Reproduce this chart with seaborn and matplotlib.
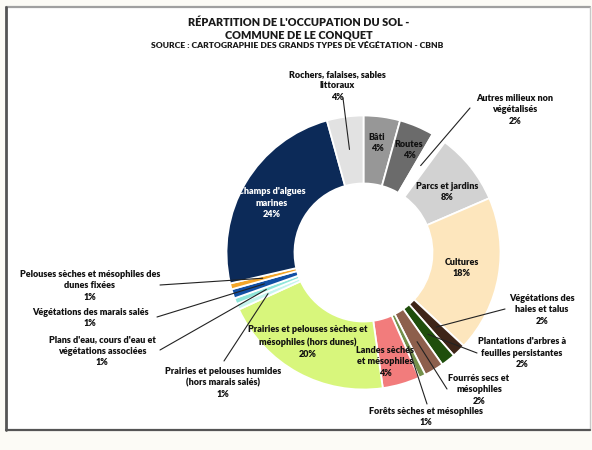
import numpy as np
import matplotlib
matplotlib.use("Agg")
import matplotlib.pyplot as plt
import seaborn as sns

# Land use shares, clockwise from 12 o'clock (percent)
categories = [
    "Bâti",
    "Routes",
    "Autres milieux non\nvégétalisés",
    "Parcs et jardins",
    "Cultures",
    "Végétations des\nhaies et talus",
    "Plantations d'arbres à\nfeuilles persistantes",
    "Fourrés secs et\nmésophiles",
    "Forêts sèches et mésophiles",
    "Landes sèches\net mésophiles",
    "Prairies et pelouses sèches et\nmésophiles (hors dunes)",
    "Prairies et pelouses humides\n(hors marais salés)",
    "Plans d'eau, cours d'eau et\nvégétations associées",
    "Végétations des marais salés",
    "Pelouses sèches et mésophiles des\ndunes fixées",
    "Champs d'algues\nmarines",
    "Rochers, falaises, sables\nlittoraux",
]
values = [4.3, 4.1, 1.7, 8.4, 18.4, 1.6, 1.7, 2.3, 0.8, 4.4, 20.4,
          0.7, 0.7, 1.1, 0.7, 24.3, 4.3]
shown_pct = [4, 4, 2, 8, 18, 2, 2, 2, 1, 4, 20, 1, 1, 1, 1, 24, 4]

colors = [
    "#979797", "#6b6b6b", "#ffffff", "#d2d2d2", "#fde6bd",
    "#3e2518", "#1f4e0c", "#8d5f4c", "#73904a", "#f27c7c",
    "#d8f67c", "#c6f5ee", "#8fe6da", "#124fa4", "#f4a62a",
    "#0c2a58", "#e2e2e2",
]

# label layout (pixel coords, y from top); inside labels have no start point
inside = {
    0: (377, 143), 1: (409, 150), 3: (447, 192), 4: (462, 268),
    9: (385, 362), 10: (308, 342), 15: (272, 203),
}
outside = {
    16: ((337, 86), (343, 98)),
    2: ((515, 110), (470, 108)),
    5: ((542, 310), (505, 309)),
    6: ((522, 353), (477, 353)),
    7: ((479, 390), (447, 389)),
    8: ((426, 417), (427, 404)),
    11: ((223, 383), (224, 361)),
    12: ((102, 351), (160, 350)),
    13: ((90, 318), (157, 317)),
    14: ((90, 286), (160, 285)),
}

W, H = 592, 450
cx, cy, R, r_in = 363.5, 252.5, 137, 69

sns.set_theme(style="white")
plt.rcParams["font.family"] = ["Lato", "DejaVu Sans"]

fig = plt.figure(figsize=(W / 100, H / 100), dpi=100, facecolor="#fcfbf6")
ax = fig.add_axes([0, 0, 1, 1])
ax.set_facecolor("#fcfbf6")


def Y(y):
    return H - y


# chart frame
ax.add_patch(plt.Rectangle((6, Y(430)), 584, 424, facecolor="white",
                           edgecolor="none", zorder=0))
ax.plot([6, 590], [Y(6.5), Y(6.5)], color="#a0a0a0", lw=1.6, zorder=1)
ax.plot([590, 590], [Y(6.5), Y(430)], color="#c8c8c8", lw=1.0, zorder=1)
ax.plot([6, 590], [Y(430), Y(430)], color="#555555", lw=1.6, zorder=1)
ax.plot([6, 6], [Y(6.5), Y(430)], color="#555555", lw=2.0, zorder=1)

wedges, _ = ax.pie(values, colors=colors, startangle=90, counterclock=False,
                   radius=R, center=(cx, Y(cy)),
                   wedgeprops=dict(width=R - r_in, edgecolor="white",
                                   linewidth=1.3))

fs = 6.5
for i, (x, y) in inside.items():
    col = "white" if i == 15 else "#111111"
    ax.text(x, Y(y), f"{categories[i]}\n{shown_pct[i]}%", ha="center",
            va="center", fontsize=fs, fontweight="heavy", color=col,
            linespacing=1.4, zorder=5)

r_tip = 104
for i, ((tx, ty), (sx, sy)) in outside.items():
    w = wedges[i]
    ang = np.deg2rad((w.theta1 + w.theta2) / 2)
    ex, ey = cx + r_tip * np.cos(ang), Y(cy) + r_tip * np.sin(ang)
    ax.plot([sx, ex], [Y(sy), ey], color="#222222", lw=0.8, zorder=6)
    ax.text(tx, Y(ty), f"{categories[i]}\n{shown_pct[i]}%", ha="center",
            va="center", fontsize=fs, fontweight="heavy", color="#111111",
            linespacing=1.4, zorder=5)

ax.text(299, Y(23), "RÉPARTITION DE L'OCCUPATION DU SOL -", ha="center",
        va="center", fontsize=7.8, fontweight="heavy", color="#1a1a1a")
ax.text(299, Y(34.5), "COMMUNE DE LE CONQUET", ha="center", va="center",
        fontsize=7.8, fontweight="heavy", color="#1a1a1a")
ax.text(297, Y(45), "SOURCE : CARTOGRAPHIE DES GRANDS TYPES DE VÉGÉTATION - CBNB",
        ha="center", va="center", fontsize=6.1, fontweight="heavy",
        color="#1a1a1a")

ax.set_xlim(0, W)
ax.set_ylim(0, H)
ax.set_axis_off()

fig.savefig("out.png", dpi=100, facecolor=fig.get_facecolor())
